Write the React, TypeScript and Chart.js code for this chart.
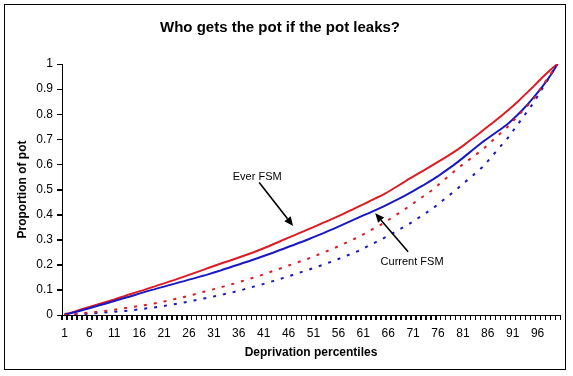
import React, { useEffect, useRef } from "react";
import { Chart, registerables } from "chart.js";

Chart.register(...registerables);

const percentiles: string[] = Array.from({ length: 100 }, (_, i) => String(i + 1));
const yTicks: number[] = [0, 0.1, 0.2, 0.3, 0.4, 0.5, 0.6, 0.7, 0.8, 0.9, 1];

const everFsm: number[] = [
  0.004, 0.007, 0.013, 0.020, 0.026, 0.032, 0.038, 0.044, 0.050, 0.056,
  0.062, 0.069, 0.075, 0.082, 0.088, 0.094, 0.100, 0.107, 0.113, 0.120,
  0.126, 0.133, 0.139, 0.146, 0.153, 0.160, 0.167, 0.174, 0.181, 0.188,
  0.195, 0.202, 0.209, 0.215, 0.222, 0.229, 0.236, 0.243, 0.250, 0.258,
  0.266, 0.274, 0.283, 0.291, 0.300, 0.308, 0.316, 0.325, 0.333, 0.342,
  0.350, 0.359, 0.368, 0.376, 0.385, 0.394, 0.403, 0.413, 0.422, 0.432,
  0.441, 0.451, 0.461, 0.470, 0.480, 0.491, 0.503, 0.515, 0.527, 0.540,
  0.551, 0.563, 0.574, 0.586, 0.598, 0.610, 0.622, 0.634, 0.647, 0.660,
  0.674, 0.689, 0.704, 0.719, 0.735, 0.751, 0.766, 0.782, 0.798, 0.815,
  0.832, 0.850, 0.869, 0.888, 0.907, 0.927, 0.947, 0.966, 0.984, 1.000,
];

const currentFsm: number[] = [
  0.002, 0.006, 0.011, 0.016, 0.022, 0.027, 0.033, 0.039, 0.044, 0.050,
  0.056, 0.062, 0.068, 0.073, 0.079, 0.085, 0.091, 0.097, 0.102, 0.108,
  0.113, 0.119, 0.124, 0.130, 0.135, 0.141, 0.146, 0.152, 0.157, 0.163,
  0.169, 0.175, 0.182, 0.188, 0.195, 0.201, 0.208, 0.214, 0.221, 0.228,
  0.235, 0.242, 0.249, 0.257, 0.264, 0.272, 0.279, 0.287, 0.294, 0.302,
  0.310, 0.318, 0.326, 0.335, 0.343, 0.352, 0.361, 0.370, 0.379, 0.388,
  0.397, 0.405, 0.414, 0.423, 0.432, 0.442, 0.452, 0.462, 0.472, 0.483,
  0.494, 0.505, 0.516, 0.528, 0.540, 0.553, 0.567, 0.581, 0.595, 0.610,
  0.626, 0.642, 0.658, 0.674, 0.690, 0.704, 0.718, 0.732, 0.746, 0.761,
  0.779, 0.798, 0.818, 0.839, 0.862, 0.886, 0.911, 0.938, 0.967, 1.000,
];

const everFsmDotted: number[] = [
  0.000, 0.002, 0.004, 0.006, 0.008, 0.010, 0.012, 0.014, 0.016, 0.018,
  0.021, 0.024, 0.027, 0.030, 0.033, 0.036, 0.039, 0.043, 0.046, 0.050,
  0.054, 0.058, 0.063, 0.067, 0.072, 0.077, 0.082, 0.087, 0.093, 0.098,
  0.103, 0.109, 0.114, 0.120, 0.125, 0.131, 0.137, 0.143, 0.149, 0.155,
  0.162, 0.169, 0.176, 0.183, 0.190, 0.197, 0.204, 0.211, 0.218, 0.225,
  0.233, 0.241, 0.249, 0.257, 0.265, 0.274, 0.283, 0.292, 0.301, 0.310,
  0.321, 0.332, 0.343, 0.354, 0.365, 0.378, 0.391, 0.404, 0.417, 0.430,
  0.444, 0.458, 0.472, 0.486, 0.500, 0.517, 0.534, 0.551, 0.568, 0.585,
  0.600, 0.615, 0.630, 0.645, 0.660, 0.678, 0.696, 0.714, 0.732, 0.750,
  0.771, 0.792, 0.813, 0.834, 0.855, 0.884, 0.913, 0.942, 0.971, 1.000,
];

const currentFsmDotted: number[] = [
  0.000, 0.001, 0.002, 0.003, 0.004, 0.005, 0.007, 0.008, 0.010, 0.011,
  0.013, 0.015, 0.016, 0.018, 0.020, 0.023, 0.025, 0.028, 0.030, 0.033,
  0.036, 0.040, 0.043, 0.047, 0.050, 0.054, 0.058, 0.062, 0.066, 0.070,
  0.074, 0.079, 0.083, 0.088, 0.092, 0.097, 0.102, 0.108, 0.113, 0.118,
  0.124, 0.130, 0.136, 0.142, 0.148, 0.154, 0.161, 0.167, 0.174, 0.180,
  0.187, 0.194, 0.201, 0.208, 0.215, 0.223, 0.231, 0.239, 0.247, 0.255,
  0.265, 0.275, 0.285, 0.295, 0.305, 0.316, 0.327, 0.338, 0.349, 0.360,
  0.373, 0.386, 0.399, 0.412, 0.425, 0.441, 0.457, 0.473, 0.489, 0.505,
  0.522, 0.539, 0.556, 0.573, 0.590, 0.613, 0.636, 0.659, 0.682, 0.705,
  0.732, 0.759, 0.786, 0.813, 0.840, 0.872, 0.904, 0.936, 0.968, 1.000,
];

// annotation positions in data units: [percentile, proportion]
const everLabel = { text: "Ever FSM", at: [39.7, 0.548], from: [40.1, 0.528], to: [46.9, 0.355] };
const currentLabel = { text: "Current FSM", at: [70.8, 0.21], from: [70.0, 0.252], to: [63.4, 0.405] };

const RED = "#DE1A22";
const BLUE = "#1818C4";
const FONT = "'Liberation Sans', Arial, sans-serif";

const annotationPlugin = {
  id: "annotations",
  afterDatasetsDraw(chart: any) {
    const ctx = chart.ctx;
    const xs = chart.scales.x;
    const ys = chart.scales.y;
    const px = (p: number) => xs.getPixelForValue(p - 1);
    const py = (v: number) => ys.getPixelForValue(v);
    ctx.save();
    for (const a of [everLabel, currentLabel]) {
      ctx.font = `11px ${FONT}`;
      ctx.fillStyle = "#000";
      ctx.textAlign = "center";
      ctx.textBaseline = "middle";
      ctx.fillText(a.text, px(a.at[0]), py(a.at[1]));
      const x1 = px(a.from[0]), y1 = py(a.from[1]);
      const x2 = px(a.to[0]), y2 = py(a.to[1]);
      const ang = Math.atan2(y2 - y1, x2 - x1);
      const hl = 9, hw = 4;
      const bx = x2 - hl * Math.cos(ang), by = y2 - hl * Math.sin(ang);
      ctx.strokeStyle = "#000";
      ctx.lineWidth = 1.6;
      ctx.beginPath();
      ctx.moveTo(x1, y1);
      ctx.lineTo(bx, by);
      ctx.stroke();
      ctx.beginPath();
      ctx.moveTo(x2, y2);
      ctx.lineTo(bx + hw * Math.sin(ang), by - hw * Math.cos(ang));
      ctx.lineTo(bx - hw * Math.sin(ang), by + hw * Math.cos(ang));
      ctx.closePath();
      ctx.fill();
    }
    ctx.restore();
  },
  afterDraw(chart: any) {
    const ctx = chart.ctx;
    const xs = chart.scales.x;
    const ys = chart.scales.y;
    const area = chart.chartArea;
    ctx.save();
    ctx.strokeStyle = "#000";
    ctx.lineWidth = 1;
    // tick marks at category boundaries on the x axis
    ctx.beginPath();
    const yb = Math.round(area.bottom);
    for (let i = 0; i <= percentiles.length; i++) {
      const x = Math.round(xs.getPixelForValue(i - 0.5)) + 0.5;
      ctx.moveTo(x, yb);
      ctx.lineTo(x, yb + 5);
    }
    // tick marks on the y axis
    const xl = Math.round(area.left);
    for (const t of yTicks) {
      const y = Math.round(ys.getPixelForValue(t)) + 0.5;
      ctx.moveTo(xl - 5, y);
      ctx.lineTo(xl, y);
    }
    ctx.stroke();
    ctx.strokeRect(4.5, 4.5, 561, 365);
    ctx.restore();
  },
};

export default function App() {
  const ref = useRef<HTMLCanvasElement | null>(null);
  useEffect(() => {
    if (!ref.current) return;
    Chart.defaults.font.family = FONT;
    const chart = new Chart(ref.current, {
      type: "line",
      data: {
        labels: percentiles,
        datasets: [
          { label: "Ever FSM (dotted)", data: everFsmDotted, borderColor: RED, borderWidth: 2, borderDash: [3, 7], pointRadius: 0, fill: false },
          { label: "Current FSM (dotted)", data: currentFsmDotted, borderColor: BLUE, borderWidth: 2, borderDash: [3, 7], pointRadius: 0, fill: false },
          { label: "Current FSM", data: currentFsm, borderColor: BLUE, borderWidth: 2, pointRadius: 0, fill: false },
          { label: "Ever FSM", data: everFsm, borderColor: RED, borderWidth: 2, pointRadius: 0, fill: false },
        ],
      },
      options: {
        animation: false,
        responsive: false,
        devicePixelRatio: 1,
        layout: { padding: { left: 0, right: 13, top: 0, bottom: 0 } },
        plugins: {
          legend: { display: false },
          tooltip: { enabled: false },
          title: {
            display: true,
            text: "Who gets the pot if the pot leaks?",
            color: "#000",
            font: { size: 15, weight: "bold", family: FONT },
            padding: { top: 19, bottom: 27 },
          },
        },
        scales: {
          x: {
            type: "category",
            offset: true,
            grid: {
              display: true,
              drawOnChartArea: false,
              drawTicks: true,
              tickLength: 5,
              color: "#000",
              tickColor: "#000",
              tickWidth: 1,
              offset: true,
            },
            border: { display: true, color: "#000", width: 1 },
            ticks: {
              autoSkip: false,
              maxRotation: 0,
              minRotation: 0,
              color: "#000",
              padding: 6,
              font: { size: 12, family: FONT },
              callback: (_v: any, i: number) => (i % 5 === 0 ? percentiles[i] : ""),
            },
            title: {
              display: true,
              text: "Deprivation percentiles",
              color: "#000",
              font: { size: 12, weight: "bold", family: FONT },
              padding: { top: 0, bottom: 16 },
            },
            afterFit: (s: any) => { s.height = 61; },
          },
          y: {
            min: 0,
            max: 1,
            grid: {
              display: true,
              drawOnChartArea: false,
              drawTicks: true,
              tickLength: 5,
              color: "#000",
              tickColor: "#000",
              tickWidth: 1,
            },
            border: { display: true, color: "#000", width: 1 },
            ticks: {
              stepSize: 0.1,
              color: "#000",
              padding: 4,
              font: { size: 12, family: FONT },
              callback: (v: any) => String(Math.round(Number(v) * 10) / 10),
            },
            title: {
              display: true,
              text: "Proportion of pot",
              color: "#000",
              font: { size: 12, weight: "bold", family: FONT },
              padding: { top: 15, bottom: 0 },
            },
            afterFit: (s: any) => { s.width = 62; },
          },
        },
      },
      plugins: [annotationPlugin],
    } as any);
    return () => chart.destroy();
  }, []);
  return (
    <div style={{ position: "absolute", left: 0, top: 0, width: 573, height: 376, background: "#fff" }}>
      <canvas ref={ref} width={573} height={376} />
    </div>
  );
}
